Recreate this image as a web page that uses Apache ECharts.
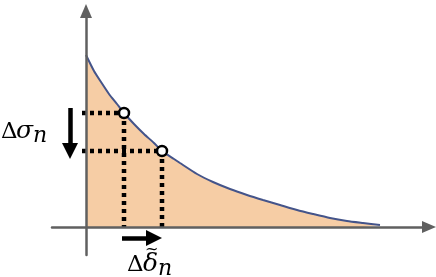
<!DOCTYPE html>
<html>
<head>
<meta charset="utf-8">
<script src="https://cdn.jsdelivr.net/npm/echarts@6/dist/echarts.min.js"></script>
<style>
html, body { margin: 0; padding: 0; background: #fff; }
#chart { width: 436px; height: 277px; }
</style>
</head>
<body>
<div id="chart"></div>
<script>
// curve (x to the right of the y axis, y above the x axis)
var curveX = [0, 8, 15, 23, 31, 38, 48, 58, 68, 76, 88, 94, 111, 127, 144, 161, 177, 194, 211, 227, 244, 261, 277, 294];
var curveY = [172, 156, 145, 133, 123, 114, 103, 93, 84, 76, 68, 64, 53, 45, 38, 32, 27, 22, 17, 13, 9, 6, 4, 2];
// the two marked points on the curve
var pointX = [38, 76];
var pointY = [114, 76];

var curveData = curveX.map(function (x, i) { return [x, curveY[i]]; });
var pointData = pointX.map(function (x, i) { return [x, pointY[i]]; });

var ink = "#000";
var dotted = { color: ink, width: 4.5, type: [4, 4], cap: "butt" };

// dotted guide lines from each point to both axes
var guides = [];
pointData.forEach(function (p) {
    guides.push({
        type: "line", data: [[-4, p[1]], [p[0], p[1]]],
        symbol: "none", lineStyle: dotted, silent: true, z: 3
    });
    guides.push({
        type: "line", data: [[p[0], p[1]], [p[0], 0]],
        symbol: "none", lineStyle: dotted, silent: true, z: 3
    });
});

var myChart = echarts.init(document.getElementById("chart"));

var axisLine = {
    onZero: true,
    symbol: ["none", "triangle"],
    symbolSize: [12, 14],
    lineStyle: { color: "#606060", width: 2.5 }
};

function mathText(left, top, text, italic, size) {
    return {
        type: "text", left: left, top: top, silent: true, z: 10,
        style: {
            text: text, fill: ink,
            fontFamily: "DejaVu Serif",
            fontSize: size,
            fontStyle: italic ? "italic" : "normal"
        }
    };
}

var option = {
    animation: false,
    grid: { left: 52, right: 7, top: 11, bottom: 22 },
    xAxis: {
        type: "value", min: -34, max: 343, z: 5,
        axisLine: axisLine,
        axisTick: { show: false }, axisLabel: { show: false }, splitLine: { show: false }
    },
    yAxis: {
        type: "value", min: -28, max: 216, z: 5,
        axisLine: axisLine,
        axisTick: { show: false }, axisLabel: { show: false }, splitLine: { show: false }
    },
    series: [
        {
            type: "line",
            data: curveData,
            smooth: 0.2,
            symbol: "none",
            lineStyle: { color: "#44548a", width: 2 },
            areaStyle: { color: "#f6cda5", opacity: 1 },
            silent: true,
            z: 2,
            markLine: {
                silent: true,
                symbol: ["none", "triangle"],
                symbolSize: 16,
                label: { show: false },
                lineStyle: { color: ink, width: 4.5, type: "solid" },
                data: [
                    [{ coord: [-16, 119] }, { coord: [-16, 76] }],
                    [{ coord: [36, -11] }, { coord: [68, -11] }]
                ]
            }
        }
    ].concat(guides).concat([
        {
            type: "scatter",
            data: pointData,
            symbol: "circle",
            symbolSize: 10,
            itemStyle: { color: "#fff", borderColor: ink, borderWidth: 2.5, opacity: 1 },
            silent: true,
            z: 6
        }
    ]),
    graphic: [
        mathText(1, 121, "Δ", false, 23),
        mathText(16, 119, "σ", true, 25),
        mathText(33, 125, "n", true, 22),
        mathText(127, 254, "Δ", false, 23),
        mathText(143, 252, "δ", true, 25),
        mathText(145, 242, "~", false, 16),
        mathText(158, 258, "n", true, 22)
    ]
};
myChart.setOption(option);
</script>
</body>
</html>
